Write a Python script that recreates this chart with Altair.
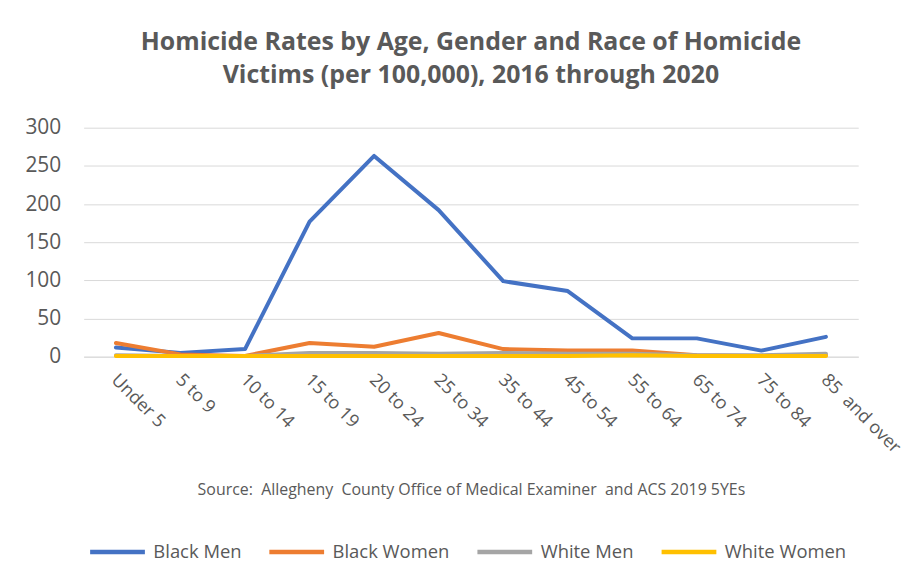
import altair as alt
import pandas as pd

ages = ["Under 5", "5 to 9", "10 to 14", "15 to 19", "20 to 24", "25 to 34",
        "35 to 44", "45 to 54", "55 to 64", "65 to 74", "75 to 84", "85\u00a0 and over"]
black_men = [12, 5, 10, 177, 263, 192, 99, 86, 24, 24, 8, 26]
black_women = [18, 3, 1, 18, 13, 31, 10, 8, 8, 2, 1, 2]
white_men = [2, 1, 1, 5, 5, 4, 5, 4, 4, 2, 2, 4]
white_women = [1, 1, 1, 1, 1, 1, 1, 1, 2, 1, 1, 1]

series = ["Black Men", "Black Women", "White Men", "White Women"]
colors = ["#4472C4", "#ED7D31", "#A5A5A5", "#FFC000"]

rows = []
for name, vals in zip(series, [black_men, black_women, white_men, white_women]):
    for i, (a, v) in enumerate(zip(ages, vals)):
        rows.append({"Age": a, "Rate": v, "Series": name, "order": i})
df = pd.DataFrame(rows)

FONT = "Open Sans"
GRAY = "#595959"
SOURCE = "Source:\u00a0 Allegheny\u00a0 County Office of Medical Examiner\u00a0 and ACS 2019 5YEs"

chart = alt.Chart(df).mark_line(strokeWidth=4, strokeCap="round", strokeJoin="round").encode(
    x=alt.X("Age:N", sort=ages, scale=alt.Scale(paddingInner=0, paddingOuter=0.5),
            axis=alt.Axis(title=SOURCE,
                          titleFont=FONT, titleFontSize=16, titleFontWeight="normal", titleColor=GRAY,
                          titlePadding=25,
                          labelAngle=45, labelAlign="left", labelBaseline="top",
                          labelFont=FONT, labelFontSize=18, labelColor=GRAY,
                          labelPadding=14, labelOffset=4, ticks=False, domainColor="#d9d9d9",
                          grid=False)),
    y=alt.Y("Rate:Q", scale=alt.Scale(domain=[0, 300]),
            axis=alt.Axis(title=None, values=[0, 50, 100, 150, 200, 250, 300],
                          labelFont=FONT, labelFontSize=21, labelColor=GRAY,
                          labelPadding=23, ticks=False, domain=False,
                          gridColor="#d9d9d9", gridWidth=1)),
    color=alt.Color("Series:N", scale=alt.Scale(domain=series, range=colors),
                    legend=alt.Legend(title=None, orient="none", direction="horizontal",
                                      legendX=4, legendY=396,
                                      symbolType="stroke", symbolStrokeWidth=4.5, symbolSize=3025,
                                      labelOffset=6,
                                      labelFont=FONT, labelFontSize=18.5, labelColor=GRAY,
                                      columnPadding=18)),
    order="order:Q",
).properties(
    width=778, height=230,
    title=alt.Title(["Homicide Rates by Age, Gender and Race of Homicide",
                     "Victims (per 100,000),  2016 through 2020"],
                    font=FONT, fontSize=25, fontWeight="bold", color=GRAY,
                    lineHeight=33, anchor="middle", offset=29),
    padding={"left": 16, "top": 21, "right": 4, "bottom": 5},
).configure_view(stroke=None)

chart.save("out.html", embed_options={"renderer": "svg", "actions": False})
